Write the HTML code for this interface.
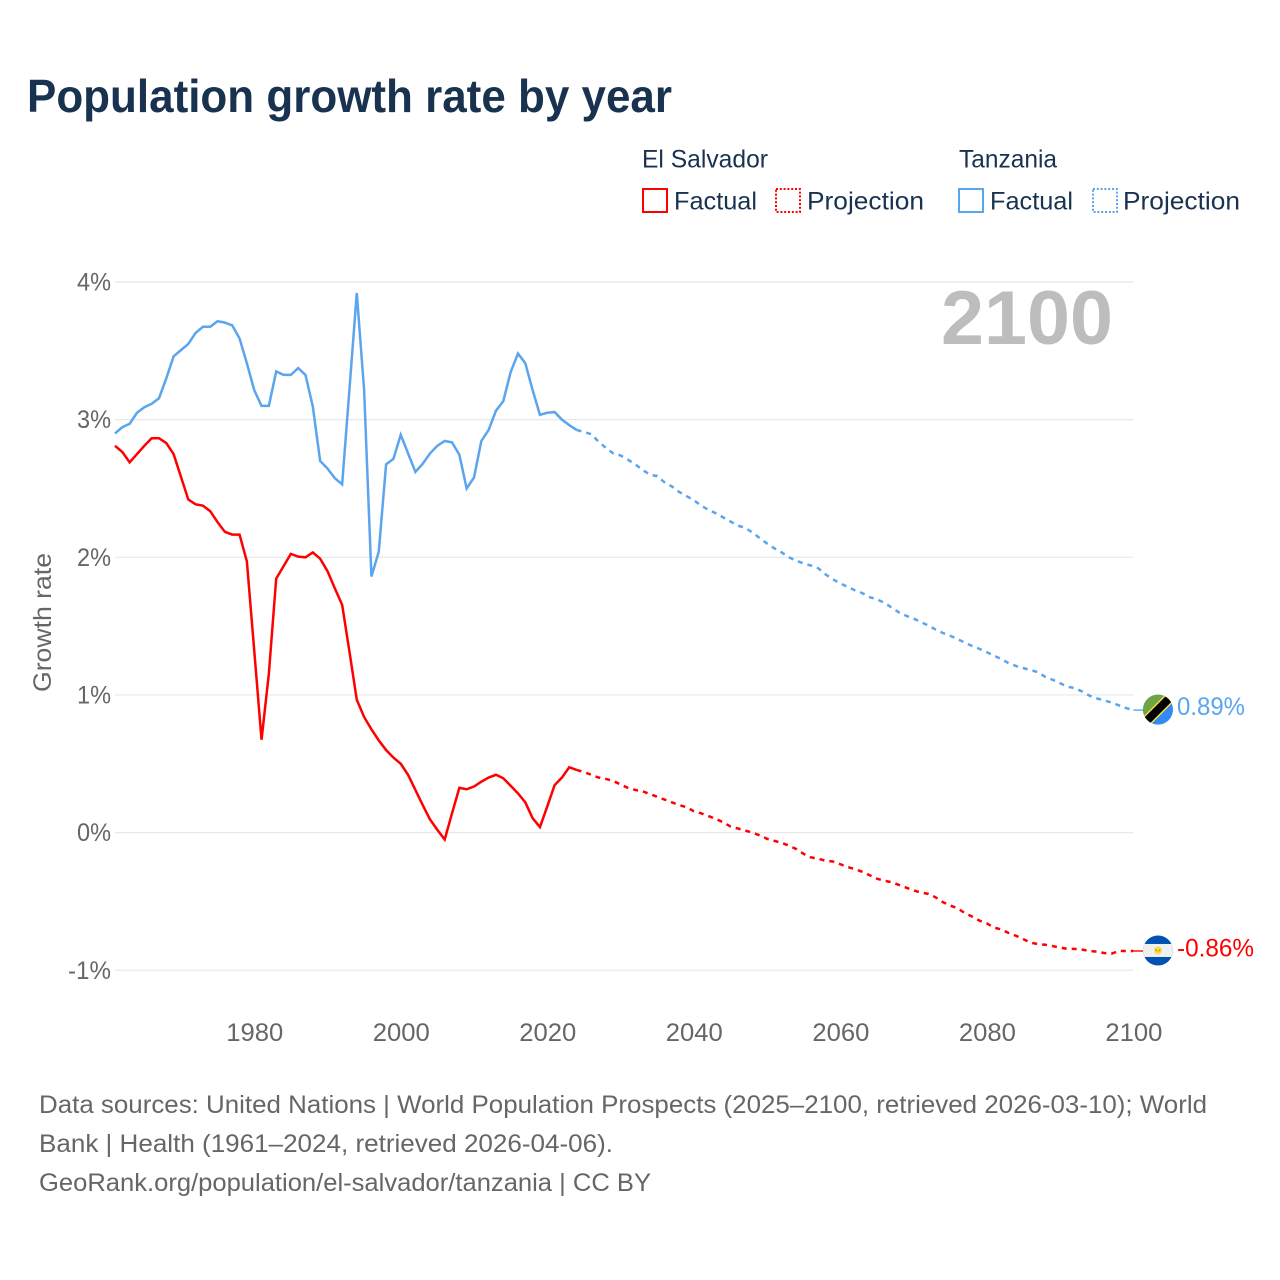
<!DOCTYPE html>
<html lang="en">
<head>
<meta charset="utf-8">
<title>Population growth rate by year</title>
<style>
html,body{margin:0;padding:0;background:#fff}
svg{display:block}
text{font-family:"Liberation Sans",sans-serif}
</style>
</head>
<body>
<svg id="chart" xmlns="http://www.w3.org/2000/svg" width="1280" height="1280" viewBox="0 0 1280 1280">
  <defs>
    <clipPath id="flag-clip"><circle cx="0" cy="0" r="15"/></clipPath>
  </defs>
  <rect x="0" y="0" width="1280" height="1280" fill="#fff"/>
  <text x="27" y="112" font-size="46" font-weight="700" fill="#18324f" textLength="645" lengthAdjust="spacingAndGlyphs">Population growth rate by year</text>

  <g font-size="25" fill="#18324f">
    <text x="642" y="167.5" textLength="126" lengthAdjust="spacingAndGlyphs">El Salvador</text>
    <text x="959" y="167.5" textLength="98" lengthAdjust="spacingAndGlyphs">Tanzania</text>
    <g>
      <rect x="643" y="189" width="24" height="23" fill="none" stroke="#ff0000" stroke-width="2"/>
      <text x="674" y="209.5" textLength="83" lengthAdjust="spacingAndGlyphs">Factual</text>
    </g>
    <g>
      <rect x="776" y="189" width="24" height="23" fill="none" stroke="#ff0000" stroke-width="2" stroke-dasharray="2 1.8"/>
      <text x="807" y="209.5" textLength="117" lengthAdjust="spacingAndGlyphs">Projection</text>
    </g>
    <g>
      <rect x="959" y="189" width="24" height="23" fill="none" stroke="#5ba4ee" stroke-width="2"/>
      <text x="990" y="209.5" textLength="83" lengthAdjust="spacingAndGlyphs">Factual</text>
    </g>
    <g>
      <rect x="1093" y="189" width="24" height="23" fill="none" stroke="#5ba4ee" stroke-width="2" stroke-dasharray="2 1.8"/>
      <text x="1123" y="209.5" textLength="117" lengthAdjust="spacingAndGlyphs">Projection</text>
    </g>
  </g>

  <g id="grid"></g>
  <g id="y-ticks"></g>
  <g id="x-ticks"></g>

  <text x="941" y="344" font-size="76" font-weight="700" fill="#bdbdbd" textLength="172" lengthAdjust="spacingAndGlyphs">2100</text>
  <text transform="translate(51,692) rotate(-90)" font-size="25" fill="#666" textLength="139" lengthAdjust="spacingAndGlyphs">Growth rate</text>

  <g id="series"></g>

  <g id="flag-tz">
    <g clip-path="url(#flag-clip)">
      <rect x="-15" y="-15" width="30" height="30" fill="#338af3"/>
      <polygon points="-15,-15 15,-15 -15,15" fill="#6da544"/>
      <line x1="-16" y1="16" x2="16" y2="-16" stroke="#ffda44" stroke-width="11"/>
      <line x1="-16" y1="16" x2="16" y2="-16" stroke="#000" stroke-width="8"/>
    </g>
  </g>
  <g id="flag-sv">
    <g clip-path="url(#flag-clip)">
      <rect x="-15" y="-15" width="30" height="30" fill="#0052b4"/>
      <rect x="-15" y="-6.5" width="30" height="13" fill="#f0f0f0"/>
      <circle cx="0" cy="0" r="4" fill="#ffda44"/>
      <path d="M-2.2-2 L0 1.5 L2.2-2 L2.2 0.6 L-2.2 0.6 Z" fill="#6da544"/>
    </g>
  </g>

  <text id="label-tz" x="1177" font-size="25" fill="#5ba4ee" textLength="68" lengthAdjust="spacingAndGlyphs"></text>
  <text id="label-sv" x="1177" font-size="25" fill="#ff0000" textLength="77" lengthAdjust="spacingAndGlyphs"></text>

  <g font-size="25" fill="#666">
    <text x="39" y="1113" textLength="1168" lengthAdjust="spacingAndGlyphs">Data sources: United Nations | World Population Prospects (2025–2100, retrieved 2026-03-10); World</text>
    <text x="39" y="1152" textLength="574" lengthAdjust="spacingAndGlyphs">Bank | Health (1961–2024, retrieved 2026-04-06).</text>
    <text x="39" y="1191" textLength="612" lengthAdjust="spacingAndGlyphs">GeoRank.org/population/el-salvador/tanzania | CC BY</text>
  </g>
</svg>
<script>
const factualStartYear = 1961;
const projectionStartYear = 2024;
const xTickYears = [1980, 2000, 2020, 2040, 2060, 2080, 2100];
const yTickValues = [-1, 0, 1, 2, 3, 4];

const tanzaniaFactual = [
  2.90,2.945,2.97,3.05,3.09,3.115,3.155,3.30,3.46,3.505,
  3.55,3.63,3.675,3.675,3.715,3.705,3.685,3.59,3.41,3.215,
  3.10,3.10,3.35,3.325,3.325,3.375,3.325,3.095,2.70,2.645,
  2.575,2.53,3.22,3.92,3.215,1.86,2.04,2.675,2.715,2.89,
  2.755,2.62,2.68,2.755,2.81,2.845,2.835,2.745,2.50,2.58,
  2.845,2.925,3.065,3.135,3.345,3.48,3.41,3.215,3.035,3.05,
  3.055,3.00,2.96,2.925
];
const tanzaniaProjection = [
  2.925,2.91,2.895,2.84,2.795,2.755,2.74,2.71,2.675,2.635,
  2.60,2.59,2.545,2.515,2.475,2.445,2.415,2.375,2.345,2.32,
  2.29,2.26,2.23,2.215,2.18,2.14,2.10,2.065,2.035,2.00,
  1.975,1.955,1.94,1.92,1.875,1.84,1.81,1.785,1.76,1.74,
  1.71,1.695,1.67,1.635,1.60,1.575,1.555,1.53,1.505,1.475,
  1.45,1.43,1.405,1.38,1.355,1.335,1.31,1.285,1.26,1.23,
  1.21,1.195,1.18,1.165,1.13,1.11,1.085,1.06,1.05,1.025,
  0.995,0.975,0.96,0.945,0.925,0.905,0.89
];
const elSalvadorFactual = [
  2.81,2.765,2.69,2.75,2.81,2.865,2.865,2.83,2.75,2.585,
  2.42,2.385,2.375,2.335,2.255,2.185,2.165,2.165,1.97,1.325,
  0.675,1.155,1.845,1.935,2.025,2.005,2.00,2.035,1.99,1.90,
  1.775,1.655,1.315,0.965,0.84,0.75,0.67,0.60,0.545,0.50,
  0.42,0.31,0.20,0.095,0.02,-0.05,0.14,0.325,0.315,0.335,
  0.37,0.40,0.42,0.395,0.34,0.285,0.22,0.105,0.04,0.19,
  0.345,0.40,0.475,0.455
];
const elSalvadorProjection = [
  0.455,0.44,0.42,0.40,0.39,0.375,0.35,0.325,0.31,0.30,
  0.28,0.26,0.24,0.22,0.20,0.185,0.155,0.14,0.12,0.10,
  0.075,0.045,0.03,0.015,0.00,-0.02,-0.045,-0.06,-0.075,-0.095,
  -0.12,-0.155,-0.18,-0.19,-0.205,-0.21,-0.23,-0.25,-0.265,-0.285,
  -0.31,-0.335,-0.35,-0.36,-0.38,-0.40,-0.42,-0.435,-0.445,-0.47,
  -0.505,-0.53,-0.55,-0.585,-0.61,-0.64,-0.66,-0.69,-0.705,-0.73,
  -0.75,-0.775,-0.80,-0.81,-0.815,-0.825,-0.835,-0.845,-0.845,-0.85,
  -0.86,-0.865,-0.875,-0.88,-0.86,-0.86,-0.86
];

const NS = 'http://www.w3.org/2000/svg';
const RED = '#ff0000';
const BLUE = '#5ba4ee';
const plotLeft = 115;
const plotRight = 1133.4;

function xScale(year) {
  return plotLeft + (year - factualStartYear) * (plotRight - plotLeft) / 139;
}
function yScale(value) {
  return 832.6 - value * 137.65;
}
function linePoints(values, startYear) {
  return values.map(function (v, i) {
    return xScale(startYear + i).toFixed(2) + ',' + yScale(v).toFixed(2);
  }).join(' ');
}

const gridGroup = document.getElementById('grid');
const yTickGroup = document.getElementById('y-ticks');
yTickValues.forEach(function (v) {
  const gridLine = document.createElementNS(NS, 'line');
  
  
  gridLine.setAttribute('x1', plotLeft);
  gridLine.setAttribute('x2', plotRight);
  gridLine.setAttribute('y1', yScale(v));
  gridLine.setAttribute('y2', yScale(v));
  gridLine.setAttribute('stroke', '#e8e8e8');
  gridLine.setAttribute('stroke-width', '1.2');
  gridGroup.appendChild(gridLine);

  const label = document.createElementNS(NS, 'text');
  
  
  label.setAttribute('x', 111);
  label.setAttribute('y', yScale(v) + 8.5);
  label.setAttribute('text-anchor', 'end');
  label.setAttribute('font-size', '25');
  label.setAttribute('fill', '#666');
  label.setAttribute('textLength', v < 0 ? 43 : 34);
  label.setAttribute('lengthAdjust', 'spacingAndGlyphs');
  label.textContent = v + '%';
  yTickGroup.appendChild(label);
});

const xTickGroup = document.getElementById('x-ticks');
xTickYears.forEach(function (year) {
  const label = document.createElementNS(NS, 'text');
  
  
  label.setAttribute('x', xScale(year) + 0.5);
  label.setAttribute('y', 1041);
  label.setAttribute('text-anchor', 'middle');
  label.setAttribute('font-size', '25');
  label.setAttribute('fill', '#666');
  label.setAttribute('textLength', 57);
  label.setAttribute('lengthAdjust', 'spacingAndGlyphs');
  label.textContent = String(year);
  xTickGroup.appendChild(label);
});

const seriesGroup = document.getElementById('series');

const tzFactualLine = document.createElementNS(NS, 'polyline');


tzFactualLine.setAttribute('points', linePoints(tanzaniaFactual, factualStartYear));
tzFactualLine.setAttribute('fill', 'none');
tzFactualLine.setAttribute('stroke', BLUE);
tzFactualLine.setAttribute('stroke-width', '2.5');
seriesGroup.appendChild(tzFactualLine);

const tzProjectionLine = document.createElementNS(NS, 'polyline');


tzProjectionLine.setAttribute('points', linePoints(tanzaniaProjection, projectionStartYear));
tzProjectionLine.setAttribute('fill', 'none');
tzProjectionLine.setAttribute('stroke', BLUE);
tzProjectionLine.setAttribute('stroke-width', '2.5');
tzProjectionLine.setAttribute('stroke-dasharray', '5 5');
seriesGroup.appendChild(tzProjectionLine);

const svFactualLine = document.createElementNS(NS, 'polyline');


svFactualLine.setAttribute('points', linePoints(elSalvadorFactual, factualStartYear));
svFactualLine.setAttribute('fill', 'none');
svFactualLine.setAttribute('stroke', RED);
svFactualLine.setAttribute('stroke-width', '2.5');
seriesGroup.appendChild(svFactualLine);

const svProjectionLine = document.createElementNS(NS, 'polyline');


svProjectionLine.setAttribute('points', linePoints(elSalvadorProjection, projectionStartYear));
svProjectionLine.setAttribute('fill', 'none');
svProjectionLine.setAttribute('stroke', RED);
svProjectionLine.setAttribute('stroke-width', '2.5');
svProjectionLine.setAttribute('stroke-dasharray', '5 5');
seriesGroup.appendChild(svProjectionLine);

const tzEnd = tanzaniaProjection[tanzaniaProjection.length - 1];
const svEnd = elSalvadorProjection[elSalvadorProjection.length - 1];

const tzConnector = document.createElementNS(NS, 'line');


tzConnector.setAttribute('x1', xScale(2100));
tzConnector.setAttribute('x2', 1144);
tzConnector.setAttribute('y1', yScale(tzEnd));
tzConnector.setAttribute('y2', yScale(tzEnd));
tzConnector.setAttribute('stroke', BLUE);
tzConnector.setAttribute('stroke-width', '1.4');
seriesGroup.appendChild(tzConnector);

const svConnector = document.createElementNS(NS, 'line');


svConnector.setAttribute('x1', xScale(2100));
svConnector.setAttribute('x2', 1144);
svConnector.setAttribute('y1', yScale(svEnd));
svConnector.setAttribute('y2', yScale(svEnd));
svConnector.setAttribute('stroke', RED);
svConnector.setAttribute('stroke-width', '1.4');
seriesGroup.appendChild(svConnector);

document.getElementById('flag-tz').setAttribute('transform', 'translate(1158,' + (yScale(tzEnd) - 0.5) + ')');
document.getElementById('flag-sv').setAttribute('transform', 'translate(1158,' + (yScale(svEnd) - 0.5) + ')');

const tzLabel = document.getElementById('label-tz');
tzLabel.setAttribute('y', yScale(tzEnd) + 5);
tzLabel.textContent = tzEnd.toFixed(2) + '%';

const svLabel = document.getElementById('label-sv');
svLabel.setAttribute('y', yScale(svEnd) + 5.5);
svLabel.textContent = svEnd.toFixed(2) + '%';
</script>
</body>
</html>
